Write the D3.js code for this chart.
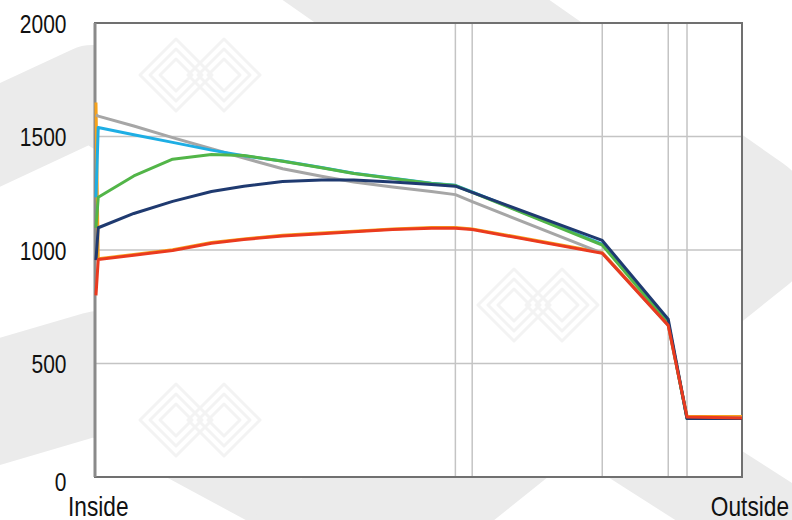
<!DOCTYPE html>
<html>
<head>
<meta charset="utf-8">
<script src="https://cdn.jsdelivr.net/npm/d3@7"></script>
<style>
  html, body { margin: 0; padding: 0; background: #ffffff; }
  svg { display: block; }
</style>
</head>
<body>
<svg id="chart" width="792" height="520"></svg>
<script>
// ---------- data ----------
// relative position through the construction, 0 = inside surface, 100 = outside surface
const positions = [0.15, 0.5, 6, 12, 18, 23, 29, 35, 40, 46, 52, 55.7, 58.3, 78.4, 88.6, 91.5, 100];
const layerBoundaries = [55.7, 58.3, 78.4, 88.6, 91.5];
const yTicks = [0, 500, 1000, 1500, 2000];
const xLabels = ["Inside", "Outside"];

const seriesGray      = [1595, 1590, 1546, 1495, 1446, 1405, 1358, 1325, 1300, 1278, 1258, 1244, 1213, 986, 668, 262, 260];
const seriesLightBlue = [1232, 1540, 1508, 1474, 1440, 1415, 1392, 1363, 1338, 1316, 1294, 1285, 1256, 1026, 682, 258, 258];
const seriesGreen     = [1098, 1232, 1326, 1400, 1421, 1416, 1391, 1362, 1337, 1315, 1293, 1284, 1254, 1022, 678, 258, 258];
const seriesNavy      = [955, 1098, 1161, 1214, 1258, 1281, 1302, 1308, 1308, 1300, 1289, 1281, 1254, 1042, 695, 258, 258];
const seriesOrange    = [1650, 962, 980, 1001, 1033, 1049, 1065, 1075, 1083, 1093, 1099, 1099, 1093, 989, 671, 268, 266];
const seriesRed       = [800, 958, 977, 998, 1030, 1046, 1062, 1072, 1080, 1090, 1096, 1096, 1090, 986, 668, 264, 260];

// drawing order: first drawn is lowest
const seriesList = [
  { name: "orange",    values: seriesOrange,    color: "#f6a21c" },
  { name: "gray",      values: seriesGray,      color: "#a6a6a6" },
  { name: "lightblue", values: seriesLightBlue, color: "#1eaee4" },
  { name: "green",     values: seriesGreen,     color: "#52b548" },
  { name: "navy",      values: seriesNavy,      color: "#1f3a70" },
  { name: "red",       values: seriesRed,       color: "#ea3a1f" }
];

// ---------- layout ----------
const svg = d3.select("#chart");
const plot = { left: 95, right: 742, top: 23, bottom: 477 };

const x = d3.scaleLinear().domain([0, 100]).range([plot.left, plot.right]);
const y = d3.scaleLinear().domain([0, 2000]).range([plot.bottom, plot.top]);

// ---------- watermark background bands ----------
const bandColor = "#ebebeb";
const bands = [
  { pts: [[-80, 172], [92, 92], [830, 563]], w: 94 },
  { pts: [[-80, 425], [100, 372], [300, 480]], w: 122 },
  { pts: [[316, -70], [739, 226], [272, 600]], w: 153 }
];
const bandLine = d3.line();
svg.append("g").selectAll("path").data(bands).join("path")
  .attr("d", d => bandLine(d.pts))
  .attr("fill", "none")
  .attr("stroke", bandColor)
  .attr("stroke-width", d => d.w)
  .attr("stroke-linejoin", "round")
  .attr("stroke-linecap", "butt");

// plot background
svg.append("rect")
  .attr("x", plot.left).attr("y", plot.top)
  .attr("width", plot.right - plot.left).attr("height", plot.bottom - plot.top)
  .attr("fill", "#ffffff");

// faint logo watermarks inside plot
const logos = [[200, 75], [538, 305], [200, 420]];
const lg = svg.append("g").attr("fill", "none").attr("stroke", "#f3f3f3").attr("stroke-width", 3)
  .attr("stroke-linejoin", "round");
logos.forEach(([cx, cy]) => {
  [-24, 24].forEach(off => {
    [36, 26, 16].forEach(r => {
      lg.append("path")
        .attr("d", `M${cx + off - r},${cy} L${cx + off},${cy - r} L${cx + off + r},${cy} L${cx + off},${cy + r} Z`);
    });
  });
});

// ---------- gridlines ----------
const grid = svg.append("g").attr("stroke", "#c4c4c4").attr("stroke-width", 1.5);
grid.selectAll("line.h").data(yTicks.filter(v => v > 0 && v < 2000)).join("line")
  .attr("class", "h")
  .attr("x1", plot.left).attr("x2", plot.right)
  .attr("y1", d => y(d)).attr("y2", d => y(d));
grid.selectAll("line.v").data(layerBoundaries).join("line")
  .attr("class", "v")
  .attr("y1", plot.top).attr("y2", plot.bottom)
  .attr("x1", d => x(d)).attr("x2", d => x(d));

// ---------- frame ----------
svg.append("rect")
  .attr("x", plot.left).attr("y", plot.top)
  .attr("width", plot.right - plot.left).attr("height", plot.bottom - plot.top)
  .attr("fill", "none").attr("stroke", "#707070").attr("stroke-width", 2);
svg.append("line")
  .attr("x1", plot.left).attr("x2", plot.left)
  .attr("y1", plot.top).attr("y2", plot.bottom)
  .attr("stroke", "#8a8a8a").attr("stroke-width", 3);

// ---------- series ----------
const line = d3.line()
  .x((d, i) => x(positions[i]))
  .y(d => y(d));
svg.append("g").selectAll("path").data(seriesList).join("path")
  .attr("d", d => line(d.values))
  .attr("fill", "none")
  .attr("stroke", d => d.color)
  .attr("stroke-width", 3)
  .attr("stroke-linejoin", "round");

// ---------- axis labels ----------
const font = "'Liberation Sans', Arial, sans-serif";
const yl = svg.append("g");
yTicks.forEach(v => {
  const ty = y(v) + (v === 0 ? 5 : 1);
  yl.append("text")
    .attr("transform", `translate(66.5,${ty}) scale(0.84,1)`)
    .attr("text-anchor", "end")
    .attr("dominant-baseline", "central")
    .attr("font-family", font)
    .attr("font-size", 25)
    .attr("fill", "#111")
    .text(v);
});
const xlPos = [{ t: xLabels[0], x: 68, anchor: "start" }, { t: xLabels[1], x: 789, anchor: "end" }];
xlPos.forEach(d => {
  svg.append("text")
    .attr("transform", `translate(${d.x},516) scale(0.84,1)`)
    .attr("text-anchor", d.anchor)
    .attr("font-family", font)
    .attr("font-size", 27)
    .attr("fill", "#111")
    .text(d.t);
});
</script>
</body>
</html>
